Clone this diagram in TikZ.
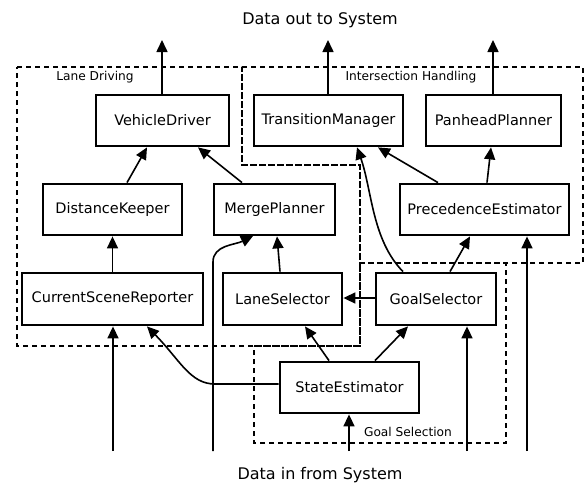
\documentclass[tikz,border=0pt]{standalone}
\usepackage{fontspec}
\setmainfont{DejaVu Sans}
\usetikzlibrary{arrows.meta}
\begin{document}
\begin{tikzpicture}[x=1pt,y=-1pt,
  comp/.style={draw,line width=2.8pt,inner sep=0pt,font=\fontsize{14.5}{17}\selectfont},
  arr/.style={line width=1.6pt,-{Triangle[length=12pt,width=11pt]}},
  region/.style={line width=1.4pt,dash pattern=on 5pt off 4pt},
  rlabel/.style={font=\fontsize{12.2}{14}\selectfont,inner sep=0pt},
  title/.style={font=\fontsize{16}{19}\selectfont,inner sep=0pt}]
\useasboundingbox (0,0) rectangle (584,483);
% regions
\draw[region] (17,67) -- (242,67) -- (242,165) -- (360,165) -- (360,346) -- (17,346) -- cycle;
\draw[region] (242,67) -- (583,67) -- (583,263) -- (360,263) -- (360,165) -- (242,165) -- cycle;
\draw[region] (254,346) -- (360,346) -- (360,263) -- (506,263) -- (506,443) -- (254,443) -- cycle;
\node[rlabel] (ld) at (95,77) {Lane Driving};
\node[rlabel] (ih) at (411,77) {Intersection Handling};
\node[rlabel] (gs) at (408,432) {Goal Selection};
\node[title] (out) at (320,20) {Data out to System};
\node[title] (in) at (320,475) {Data in from System};
% components
\node[comp,minimum width=133pt,minimum height=51pt] (VD) at (162.5,120.5) {VehicleDriver};
\node[comp,minimum width=149pt,minimum height=51pt] (TM) at (328.5,120.5) {TransitionManager};
\node[comp,minimum width=135pt,minimum height=51pt] (PP) at (493.5,120.5) {PanheadPlanner};
\node[comp,minimum width=139pt,minimum height=51pt] (DK) at (112.5,209.5) {DistanceKeeper};
\node[comp,minimum width=121pt,minimum height=51pt] (MP) at (274.5,209.5) {MergePlanner};
\node[comp,minimum width=169pt,minimum height=51pt] (PE) at (484.5,209.5) {PrecedenceEstimator};
\node[comp,minimum width=181pt,minimum height=52pt] (CSR) at (112.5,299) {CurrentSceneReporter};
\node[comp,minimum width=119pt,minimum height=52pt] (LS) at (282.5,299) {LaneSelector};
\node[comp,minimum width=120pt,minimum height=52pt] (GS) at (436,299) {GoalSelector};
\node[comp,minimum width=139pt,minimum height=51pt] (SE) at (349.5,387.5) {StateEstimator};
% outputs
\coordinate (o1) at (162,40);
\coordinate (o2) at (328,40);
\coordinate (o3) at (493,40);
\draw[arr] (VD.north -| o1) -- (o1);
\draw[arr] (TM.north -| o2) -- (o2);
\draw[arr] (PP.north -| o3) -- (o3);
% inputs
\coordinate (i1) at (113,451);
\coordinate (i2) at (213,451);
\coordinate (i3) at (349,451);
\coordinate (i4) at (467,451);
\coordinate (i5) at (527,451);
\draw[arr] (i1) -- (i1 |- CSR.south);
\draw[arr] (i2) -- (213,262) .. controls (213,245) and (235,245) .. (253,236);
\draw[arr] (i3) -- (i3 |- SE.south);
\draw[arr] (i4) -- (i4 |- GS.south);
\draw[arr] (i5) -- (i5 |- PE.south);
% internal
\draw[arr] (CSR.north) -- (DK.south);
\draw[arr] ([xshift=14.5pt]DK.north) -- ([xshift=-15.5pt]VD.south);
\draw[arr] ([xshift=-32.5pt]MP.north) -- ([xshift=35.5pt]VD.south);
\draw[arr] ([xshift=-2.5pt]LS.north) -- ([xshift=2.5pt]MP.south);
\draw[arr] (GS.west |- 0,298) -- (LS.east |- 0,298);
\draw[arr] ([xshift=14pt]GS.north) -- ([xshift=-14.5pt]PE.south);
\draw[arr] ([xshift=-46.5pt]PE.north) -- ([xshift=49.5pt]TM.south);
\draw[arr] ([xshift=2.5pt]PE.north) -- ([xshift=-2.5pt]PP.south);
\draw[arr] ([xshift=-33pt]GS.north) .. controls (372,240) and (372,190) .. ([xshift=28.5pt]TM.south);
\draw[arr] ([xshift=-20.5pt]SE.north) -- ([xshift=22.5pt]LS.south);
\draw[arr] ([xshift=25.5pt]SE.north) -- ([xshift=-28pt]GS.south);
\draw[arr] (SE.west |- 0,384) -- (215,384) .. controls (190,384) and (180,360) .. ([xshift=34.5pt]CSR.south);
\end{tikzpicture}
\end{document}
